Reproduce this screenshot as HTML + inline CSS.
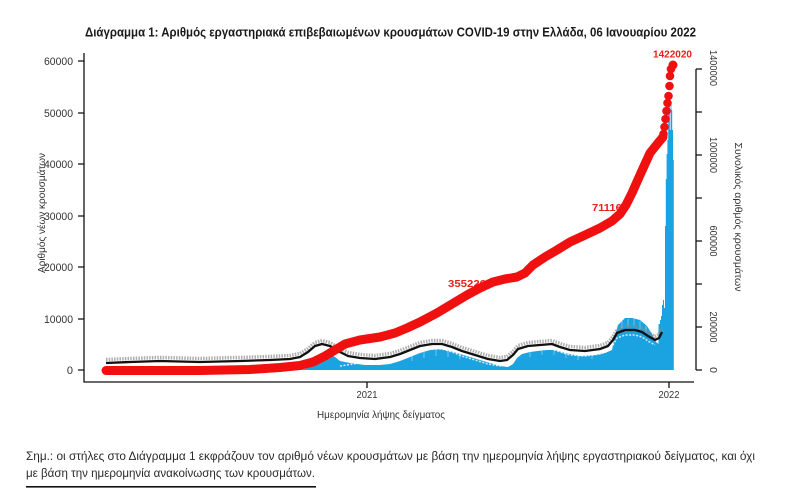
<!DOCTYPE html>
<html>
<head>
<meta charset="utf-8">
<style>
html,body{margin:0;padding:0;background:#fff;}
svg{display:block;}
text{font-family:"Liberation Sans","DejaVu Sans",sans-serif;}
</style>
</head>
<body>
<svg width="800" height="490" viewBox="0 0 800 490" xmlns="http://www.w3.org/2000/svg">
<rect width="800" height="490" fill="#fff"/>

<!-- Title -->
<text x="85" y="36.5" font-size="12.5" font-weight="bold" fill="#1a1a1a" textLength="611" lengthAdjust="spacingAndGlyphs">Διάγραμμα 1: Αριθμός εργαστηριακά επιβεβαιωμένων κρουσμάτων COVID-19 στην Ελλάδα, 06 Ιανουαρίου 2022</text>

<!-- Blue bars (daily new cases) -->
<polygon fill="#1aa3e0" points="300,370 305,369 310,367 315,362 320,357 325,354 330,354 335,357 340,361 350,363 365,365 380,365 390,364 400,361 410,357 420,353 430,350 440,349 450,351 460,354 470,357 480,360 490,363 500,366 508,367 513,364 517,358 522,354 530,352 545,350 555,350 565,353 580,356 595,355 605,353 612,350 615,335 618,325 625,318 632,318 640,320 647,326 652,334 656,342 660,345 661,370"/>
<polygon fill="#1aa3e0" points="658.5,370 658.5,324 660,324 660,320 661,320 661,316 662,316 662,305 663,305 663,300 664,300 664,308 665,308 665,226 665.8,226 665.8,179 666.6,179 666.6,154 667.4,154 667.4,140 668.2,140 668.2,107 669,107 669,104 669.8,104 669.8,130 670.6,130 670.6,102 671.4,102 671.4,110 672.2,110 672.2,130 673,130 673,160 673.8,160 673.8,370"/>
<!-- white stripes inside bars -->
<g stroke="#ffffff" stroke-width="0.7" opacity="0.55">
<path d="M412 356V361 M424 352V358 M436 350V356 M448 351V357 M460 354V359 M530 352V357 M542 350V355 M554 350V355 M566 353V358 M578 356V360 M592 355V359 M622 320V328 M628 319V327 M634 319V327 M640 321V329 M646 326V333"/>
</g>

<!-- Gray label noise around black line -->
<polyline fill="none" stroke="#8a8a8a" stroke-width="3.5" stroke-dasharray="1.5 1.2" opacity="0.7" points="106,359.5 130,358.5 160,357.5 200,358.5 240,357.5 270,356.5 290,355.5 300,353.5 308,348.5 315,342.5 322,340.5 330,342.5 338,347.5 348,352.5 360,354.5 375,355.5 390,353.5 400,350.5 410,346.5 420,342.5 432,340.5 442,340.5 452,343.5 462,347.5 475,351.5 488,355.5 500,357.5 507,356.5 513,351.5 518,345.5 528,342.5 540,341.5 552,340.5 560,343.5 570,346.5 585,347.5 600,345.5 608,342.5 613,336.5 617,329.5 625,326.5 635,326.5 642,328.5 648,332.5 655,336.5 659,334.5 662,328.5"/>
<polyline fill="none" stroke="#ffffff" stroke-width="1.5" stroke-dasharray="2 1.5" opacity="0.8" points="340,366 360,363 375,364 390,362 400,359 410,355 420,351 432,349 442,349 452,352 462,356 475,360 488,364 500,366 513,360 518,354 528,351 540,350 552,349 560,352 570,355 585,356 600,354 608,351 613,345 617,338 625,335 635,335 642,337 648,341 655,345"/>
<!-- Black line -->
<polyline fill="none" stroke="#111" stroke-width="2.3" stroke-linejoin="round" points="106,363 130,362 160,361 200,362 240,361 270,360 290,359 300,357 308,352 315,346 322,344 330,346 338,351 348,356 360,358 375,359 390,357 400,354 410,350 420,346 432,344 442,344 452,347 462,351 475,355 488,359 500,361 507,360 513,355 518,349 528,346 540,345 552,344 560,347 570,350 585,351 600,349 608,346 613,340 617,333 625,330 635,330 642,332 648,336 655,340 659,338 662,332"/>

<!-- Red labels -->
<text x="448" y="287" font-size="10.5" font-weight="bold" fill="#e8201c" textLength="38" lengthAdjust="spacingAndGlyphs">355226</text>
<text x="592" y="211" font-size="10.5" font-weight="bold" fill="#e8201c" textLength="36" lengthAdjust="spacingAndGlyphs">711168</text>
<text x="653" y="57.5" font-size="10.5" font-weight="bold" fill="#e8201c" textLength="39" lengthAdjust="spacingAndGlyphs">1422020</text>

<!-- Red cumulative curve -->
<polyline fill="none" stroke="#f01010" stroke-width="9" stroke-linecap="round" stroke-linejoin="round" points="106,370.5 200,370.5 250,369.5 280,367.5 300,365.5 313,362 325,356 335,350 345,344 360,340 380,337 395,333 407,328 420,322 437,313 452,304 467,295 480,288 493,282 505,279 517,277 525,273 533,265 545,257 557,250 570,242 583,236 600,228 612,221 620,214 626,205 632,193 640,175 650,153 658,143 663,137"/>
<g fill="#f01010">
<circle cx="663.5" cy="134" r="4.3"/>
<circle cx="664.5" cy="127" r="4.3"/>
<circle cx="665.5" cy="119" r="4.3"/>
<circle cx="666.5" cy="111" r="4.3"/>
<circle cx="667.5" cy="103" r="4.3"/>
<circle cx="668.5" cy="96" r="4.3"/>
<circle cx="669.5" cy="86" r="4.3"/>
<circle cx="670" cy="76" r="4.3"/>
<circle cx="671" cy="69" r="4.3"/>
<circle cx="673" cy="65" r="4.5"/>
</g>

<!-- Axes -->
<g stroke="#111" stroke-width="1.3" fill="none">
<path d="M84 53V382H694"/>
<path d="M78 61H84 M78 113H84 M78 164H84 M78 216H84 M78 267H84 M78 319H84 M78 370H84"/>
<path d="M367 382V388 M669 382V388"/>
<path d="M696 69V370 M696 69H702 M696 112H702 M696 155H702 M696 198H702 M696 241H702 M696 284H702 M696 327H702 M696 370H702"/>
</g>

<g font-size="11" fill="#333" text-anchor="end">
<text x="73" y="65" textLength="29" lengthAdjust="spacingAndGlyphs">60000</text>
<text x="73" y="117" textLength="29" lengthAdjust="spacingAndGlyphs">50000</text>
<text x="73" y="168" textLength="29" lengthAdjust="spacingAndGlyphs">40000</text>
<text x="73" y="220" textLength="29" lengthAdjust="spacingAndGlyphs">30000</text>
<text x="73" y="271" textLength="29" lengthAdjust="spacingAndGlyphs">20000</text>
<text x="73" y="323" textLength="29" lengthAdjust="spacingAndGlyphs">10000</text>
<text x="73" y="374">0</text>
</g>

<text transform="translate(45,213) rotate(-90)" font-size="10.5" fill="#333" text-anchor="middle" textLength="120" lengthAdjust="spacingAndGlyphs">Αριθμός νέων κρουσμάτων</text>

<!-- Right axis labels -->
<g font-size="10.5" fill="#333" text-anchor="middle">
<text transform="translate(710,370) rotate(90)">0</text>
<text transform="translate(710,327) rotate(90)" textLength="31" lengthAdjust="spacingAndGlyphs">200000</text>
<text transform="translate(710,241) rotate(90)" textLength="31" lengthAdjust="spacingAndGlyphs">600000</text>
<text transform="translate(710,155) rotate(90)" textLength="36" lengthAdjust="spacingAndGlyphs">1000000</text>
<text transform="translate(710,68) rotate(90)" textLength="36" lengthAdjust="spacingAndGlyphs">1400000</text>
</g>
<text transform="translate(735,217) rotate(90)" font-size="10.5" fill="#333" text-anchor="middle" textLength="149" lengthAdjust="spacingAndGlyphs">Συνολικός αριθμός κρουσμάτων</text>

<!-- X labels -->
<g font-size="10.5" fill="#333" text-anchor="middle">
<text x="367" y="398" textLength="21" lengthAdjust="spacingAndGlyphs">2021</text>
<text x="669" y="398" textLength="21" lengthAdjust="spacingAndGlyphs">2022</text>
<text x="381" y="418" textLength="128" lengthAdjust="spacingAndGlyphs">Ημερομηνία λήψης δείγματος</text>
</g>

<!-- Note -->
<text x="26" y="460" font-size="11.5" fill="#2a2a2a" textLength="729" lengthAdjust="spacingAndGlyphs">Σημ.:  οι στήλες στο Διάγραμμα 1 εκφράζουν τον αριθμό νέων κρουσμάτων με βάση την ημερομηνία λήψης εργαστηριακού δείγματος, και όχι</text>
<text x="26" y="477" font-size="11.5" fill="#2a2a2a" textLength="289" lengthAdjust="spacingAndGlyphs">με βάση την ημερομηνία ανακοίνωσης των κρουσμάτων.</text>
<rect x="26" y="486" width="290" height="1.6" fill="#111"/>
</svg>
</body>
</html>
